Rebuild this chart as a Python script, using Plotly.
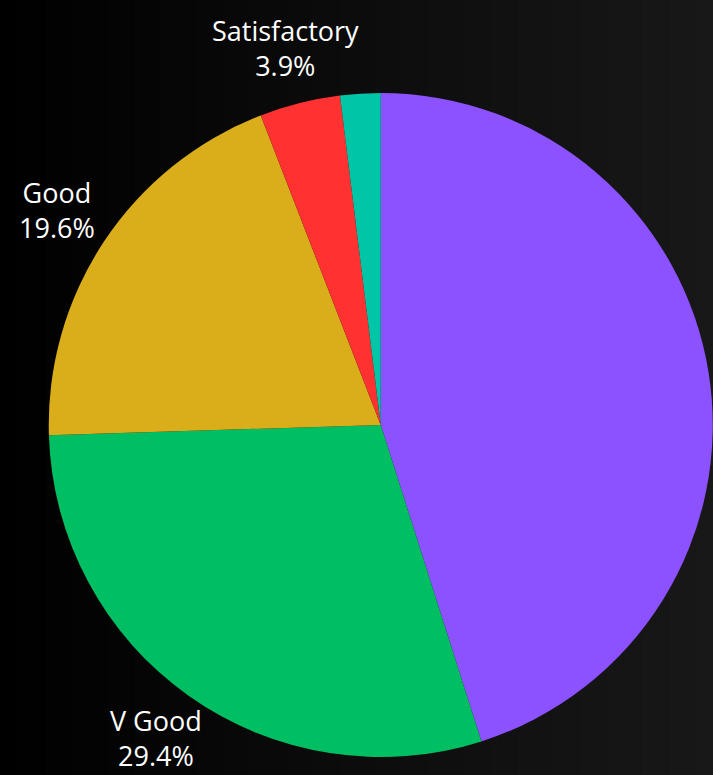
import math
import plotly.graph_objects as go

# Grade distribution (counts out of 51 students)
grades = ["Excellent", "V Good", "Good", "Satisfactory", "Pass"]
counts = [23, 15, 10, 2, 1]
colors = ["#8C52FF", "#00BF63", "#DAAE1B", "#FF3131", "#00C5A6"]
show_label = [False, True, True, True, False]

W, H = 713, 775
dom_x = [0.068, 1.0]
dom_y = [0.0232, 0.88]
label_size = 27

fig = go.Figure(
    go.Pie(
        labels=grades,
        values=counts,
        marker=dict(colors=colors, line=dict(width=0)),
        sort=False,
        direction="clockwise",
        rotation=0,
        textinfo="none",
        showlegend=False,
        hoverinfo="label+percent",
        domain=dict(x=dom_x, y=dom_y),
    )
)

# Outside labels, centred on each slice's mid-angle a fixed distance beyond the rim
cx_px = (dom_x[0] + dom_x[1]) / 2 * W
cy_px = (1 - (dom_y[0] + dom_y[1]) / 2) * H
r_px = min((dom_x[1] - dom_x[0]) * W, (dom_y[1] - dom_y[0]) * H) / 2
label_r = r_px * 1.17
half_box = label_size * 1.3 + 2  # two text lines plus padding, halved
total = sum(counts)
cum = 0
annotations = []
for name, v, show in zip(grades, counts, show_label):
    mid = 2 * math.pi * (cum + v / 2) / total
    cum += v
    if not show:
        continue
    px = cx_px + label_r * math.sin(mid)
    py = cy_px - label_r * math.cos(mid)
    py = min(max(py, half_box), H - half_box)  # keep the label box on the canvas
    annotations.append(
        dict(
            x=px / W, y=1 - py / H, xref="paper", yref="paper",
            text=f"{name}<br>{100 * v / total:.1f}%",
            showarrow=False, xanchor="center", yanchor="middle",
            font=dict(family="Open Sans", size=label_size, color="#FFFFFF"),
        )
    )

# Horizontal dark gradient background built from thin vertical bands
n_bands = 80
start, end = 0, 24
shapes = []
for i in range(n_bands):
    v = round(start + (end - start) * (i + 0.5) / n_bands)
    shapes.append(
        dict(
            type="rect", xref="paper", yref="paper",
            x0=i / n_bands, x1=(i + 1) / n_bands + 0.002, y0=0, y1=1,
            fillcolor=f"rgb({v},{v},{v})", line=dict(width=0), layer="below",
        )
    )

fig.update_layout(
    width=W,
    height=H,
    margin=dict(l=0, r=0, t=0, b=0),
    paper_bgcolor="#000000",
    plot_bgcolor="#000000",
    shapes=shapes,
    annotations=annotations,
)

fig.write_html("out.html")
